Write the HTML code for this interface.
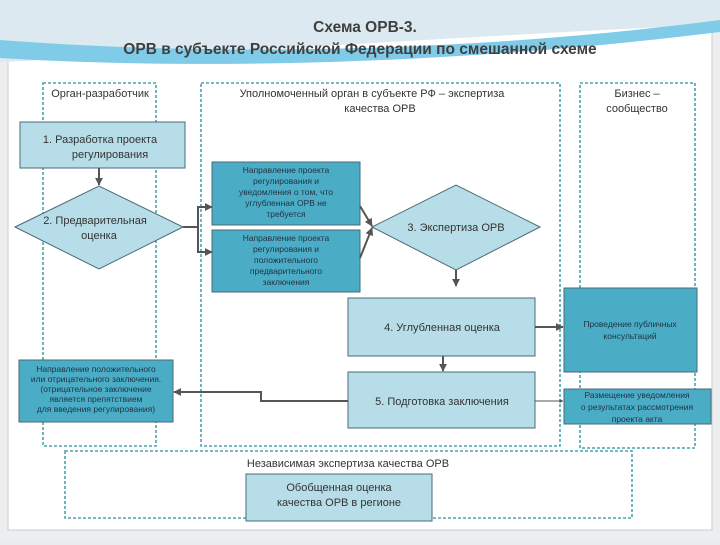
<!DOCTYPE html>
<html><head><meta charset="utf-8"><style>
body{margin:0;width:720px;height:540px;overflow:hidden;background:#e9ecef;font-family:"Liberation Sans",sans-serif}
</style></head><body>
<svg width="720" height="540" xmlns="http://www.w3.org/2000/svg" font-family="Liberation Sans, sans-serif">
<defs><marker id="a" viewBox="0 0 10 10" refX="9" refY="5" markerWidth="4" markerHeight="4" orient="auto"><path d="M0,0L10,5L0,10z" fill="#555"/></marker></defs>
<rect x="0" y="0" width="720" height="540" fill="#eceef0"/>
<rect x="8" y="14" width="704" height="516" fill="#fff" stroke="#ccc"/>
<path d="M0,0 L720,0 L720,25 C560,30 380,45 0,62 Z" fill="#dce9f0"/>
<path d="M0,40 C200,55 450,55 720,20 L720,32 C450,65 200,70 0,58Z" fill="#7fcbe8"/>
<g font-weight="bold" font-size="15.5" fill="#3f3f3f" text-anchor="middle">
<text x="365" y="32">Схема ОРВ-3.</text>
<text x="360" y="54">ОРВ в субъекте Российской Федерации по смешанной схеме</text></g>
<g fill="none" stroke="#4aa3ad" stroke-width="1.6" stroke-dasharray="3,2">
<rect x="43" y="83" width="113" height="363"/>
<rect x="201" y="83" width="359" height="363"/>
<rect x="580" y="83" width="115" height="365"/>
<rect x="65" y="451" width="567" height="67"/></g>
<g font-size="11" fill="#333" text-anchor="middle">
<text x="100" y="97">Орган-разработчик</text>
<text x="372" y="97">Уполномоченный орган в субъекте РФ – экспертиза</text>
<text x="380" y="112">качества ОРВ</text>
<text x="637" y="97">Бизнес –</text>
<text x="637" y="112">сообщество</text>
<text x="348" y="467">Независимая экспертиза качества ОРВ</text></g>
<g stroke="#4a6a78" stroke-width="1">
<rect x="20" y="122" width="165" height="46" fill="#b7dde8"/>
<polygon points="15,227 99,186 183,227 99,269" fill="#b7dde8"/>
<rect x="212" y="162" width="148" height="63" fill="#4bacc6"/>
<rect x="212" y="230" width="148" height="62" fill="#4bacc6"/>
<polygon points="372,227 456,185 540,227 456,270" fill="#b7dde8"/>
<rect x="348" y="298" width="187" height="58" fill="#b7dde8"/>
<rect x="348" y="372" width="187" height="56" fill="#b7dde8"/>
<rect x="564" y="288" width="133" height="84" fill="#4bacc6"/>
<rect x="564" y="389" width="147" height="35" fill="#4bacc6"/>
<rect x="19" y="360" width="154" height="62" fill="#4bacc6"/>
<rect x="246" y="474" width="186" height="47" fill="#b7dde8"/></g>
<g stroke="#555" stroke-width="2" fill="none" marker-end="url(#a)">
<path d="M99,168V185"/>
<path d="M183,227H198V207H212"/>
<path d="M198,227V252H212"/>
<path d="M360,206L372,226"/>
<path d="M360,258L372,228"/>
<path d="M456,270V286"/>
<path d="M535,327H563"/>
<path d="M443,356V371"/>
<path d="M348,401H261V392H174"/>
<path d="M535,401H563" stroke-width="1"/></g>
<g font-size="11" fill="#333" text-anchor="middle">
<text x="100" y="143">1.  Разработка проекта</text><text x="110" y="158">регулирования</text>
<text x="95" y="224">2. Предварительная</text><text x="99" y="239">оценка</text>
<text x="456" y="231">3. Экспертиза ОРВ</text>
<text x="442" y="331">4. Углубленная оценка</text>
<text x="442" y="405">5. Подготовка заключения</text>
<text x="339" y="491">Обобщенная оценка</text><text x="339" y="506">качества ОРВ в регионе</text></g>
<g font-size="8.5" fill="#234" text-anchor="middle">
<text x="286" y="173">Направление проекта</text><text x="286" y="184">регулирования и</text><text x="286" y="195">уведомления о том, что</text><text x="286" y="206">углубленная ОРВ не</text><text x="286" y="217">требуется</text>
<text x="286" y="241">Направление проекта</text><text x="286" y="252">регулирования и</text><text x="286" y="263">положительного</text><text x="286" y="274">предварительного</text><text x="286" y="285">заключения</text>
<text x="630" y="327">Проведение публичных</text><text x="630" y="339">консультаций</text>
<text x="637" y="398">Размещение уведомления</text><text x="637" y="410">о результатах рассмотрения</text><text x="637" y="422">проекта акта</text>
<text x="96" y="372">Направление положительного</text><text x="96" y="382">или отрицательного заключения.</text><text x="96" y="392">(отрицательное заключение</text><text x="96" y="402">является препятствием</text><text x="96" y="412">для введения регулирования)</text></g>
</svg>
</body></html>
